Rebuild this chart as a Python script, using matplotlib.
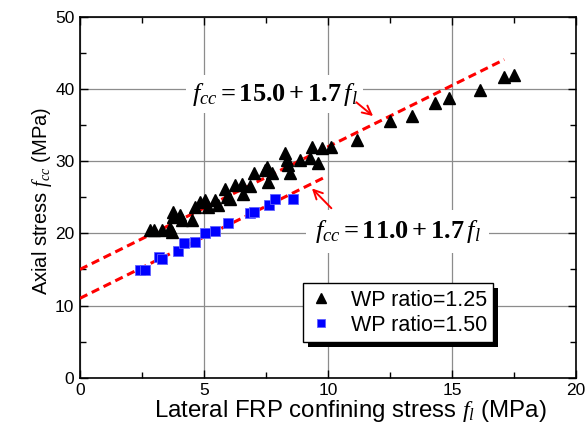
import matplotlib
matplotlib.use('Agg')
import matplotlib.pyplot as plt
import numpy as np
from matplotlib.patches import Rectangle

plt.rcParams['font.family'] = ['Liberation Sans', 'DejaVu Sans']
plt.rcParams['mathtext.fontset'] = 'custom'
plt.rcParams['mathtext.rm'] = 'Liberation Serif:bold'
plt.rcParams['mathtext.it'] = 'Liberation Serif:italic'
plt.rcParams['mathtext.bf'] = 'Liberation Serif:bold'

# WP ratio = 1.25 (triangles)
fl_125 = [2.82, 2.98, 3.29, 3.63, 3.7, 3.76, 3.76, 4.03, 4.1, 4.5, 4.64, 4.84, 5.04, 5.17,
          5.44, 5.58, 5.85, 5.91, 6.05, 6.25, 6.52, 6.59, 6.85, 7.0, 7.46, 7.53, 7.59,
          7.73, 8.27, 8.33, 8.4, 8.47, 8.87, 9.27, 9.34, 9.6, 9.74, 10.1, 11.16, 12.5,
          13.37, 14.31, 14.88, 16.13, 17.07, 17.51]
fcc_125 = [20.4, 20.5, 20.5, 20.7, 20.2, 23.0, 22.3, 22.5, 21.8, 21.8, 23.7, 24.4, 24.6, 23.7,
           24.6, 23.9, 26.2, 25.1, 24.8, 26.7, 26.9, 25.5, 26.5, 28.3, 28.8, 29.2, 27.1,
           28.3, 31.1, 30.2, 29.5, 28.3, 30.2, 30.4, 32.0, 29.8, 31.8, 32.0, 32.9, 35.5,
           36.2, 38.0, 38.8, 39.9, 41.7, 42.0]

# WP ratio = 1.50 (squares)
fl_150 = [2.42, 2.62, 3.2, 3.3, 3.95, 4.2, 4.64, 5.04, 5.44, 5.98, 6.85, 7.0, 7.6, 7.86, 8.6]
fcc_150 = [14.9, 14.9, 16.7, 16.4, 17.5, 18.7, 18.8, 20.1, 20.3, 21.4, 22.8, 23.0, 23.9, 24.8, 24.8]

# fitted lines: fcc = a + b*fl
fit_a = [15.0, 11.0]
fit_b = [1.7, 1.7]
fit_xmax = [17.1, 9.8]
fit_labels = [r'$f_{cc}=15.0+1.7\,f_l$', r'$f_{cc}=11.0+1.7\,f_l$']

legend_labels = ['WP ratio=1.25', 'WP ratio=1.50']

fig = plt.figure(figsize=(5.88, 4.41), dpi=100)
ax = fig.add_axes([0.136, 0.1435, 0.844, 0.8185])

ax.set_axisbelow(True)
ax.grid(True, color='#8c8c8c', lw=0.9)

ax.plot(fl_125, fcc_125, linestyle='none', marker='^', color='black', ms=8.5,
        label=legend_labels[0], zorder=4)
ax.plot(fl_150, fcc_150, linestyle='none', marker='s', color='#0000ff', mec='#6060ff', mew=0.6,
        ms=6.5, label=legend_labels[1], zorder=4)

for a, b, xm in zip(fit_a, fit_b, fit_xmax):
    xs = np.array([0.0, xm])
    ax.plot(xs, a + b * xs, color='red', lw=2.2, linestyle=(0, (2.7, 1.6)), zorder=3)

ax.text(7.85, 38.4, fit_labels[0], fontsize=19, ha='center', va='baseline',
        bbox=dict(fc='white', ec='none', pad=4), zorder=3.5)
ax.text(12.8, 19.35, fit_labels[1], fontsize=19, ha='center', va='baseline',
        bbox=dict(fc='white', ec='none', pad=6), zorder=3.5)

ax.annotate('', xy=(11.9, 36.0), xytext=(11.05, 38.4),
            arrowprops=dict(arrowstyle='->', color='red', lw=1.4, mutation_scale=16), zorder=5)
ax.annotate('', xy=(9.27, 26.5), xytext=(10.21, 23.2),
            arrowprops=dict(arrowstyle='->', color='red', lw=1.4, mutation_scale=16), zorder=5)

ax.set_xlim(0, 20)
ax.set_ylim(0, 50)
ax.set_xticks([0, 5, 10, 15, 20])
ax.set_yticks([0, 10, 20, 30, 40, 50])
ax.set_xticks([2.5, 7.5, 12.5, 17.5], minor=True)
ax.set_yticks([5, 15, 25, 35, 45], minor=True)
ax.tick_params(which='both', direction='in', top=True, right=True, labelsize=12.5, width=1)
ax.tick_params(which='major', length=6, pad=4)
ax.tick_params(which='minor', length=4)
for s in ax.spines.values():
    s.set_linewidth(1.2)

ax.set_xlabel(r'Lateral FRP confining stress $f_l$ (MPa)', fontsize=17.3)
ax.xaxis.set_label_coords(0.544, -0.057)
ax.set_ylabel(r'Axial stress $f_{cc}$ (MPa)', fontsize=14.5)
ax.yaxis.set_label_coords(-0.052, 0.49)

leg = ax.legend(loc='upper left', bbox_to_anchor=(0.45, 0.262), borderaxespad=0,
                fontsize=15.5, numpoints=1, handlelength=1.0, handletextpad=0.9,
                borderpad=0.3, labelspacing=0.2, fancybox=False, framealpha=1,
                edgecolor='black', markerscale=0.8)
leg.get_frame().set_linewidth(1.0)
leg.set_zorder(6)

fig.canvas.draw()
bb = leg.get_window_extent().transformed(ax.transAxes.inverted())
dx = 5 / (ax.bbox.width)
dy = 5 / (ax.bbox.height)
ax.add_patch(Rectangle((bb.x0 + dx, bb.y0 - dy), bb.width, bb.height, transform=ax.transAxes,
                       facecolor='black', edgecolor='none', zorder=5.5, clip_on=False))

fig.savefig('out.png', dpi=100)
